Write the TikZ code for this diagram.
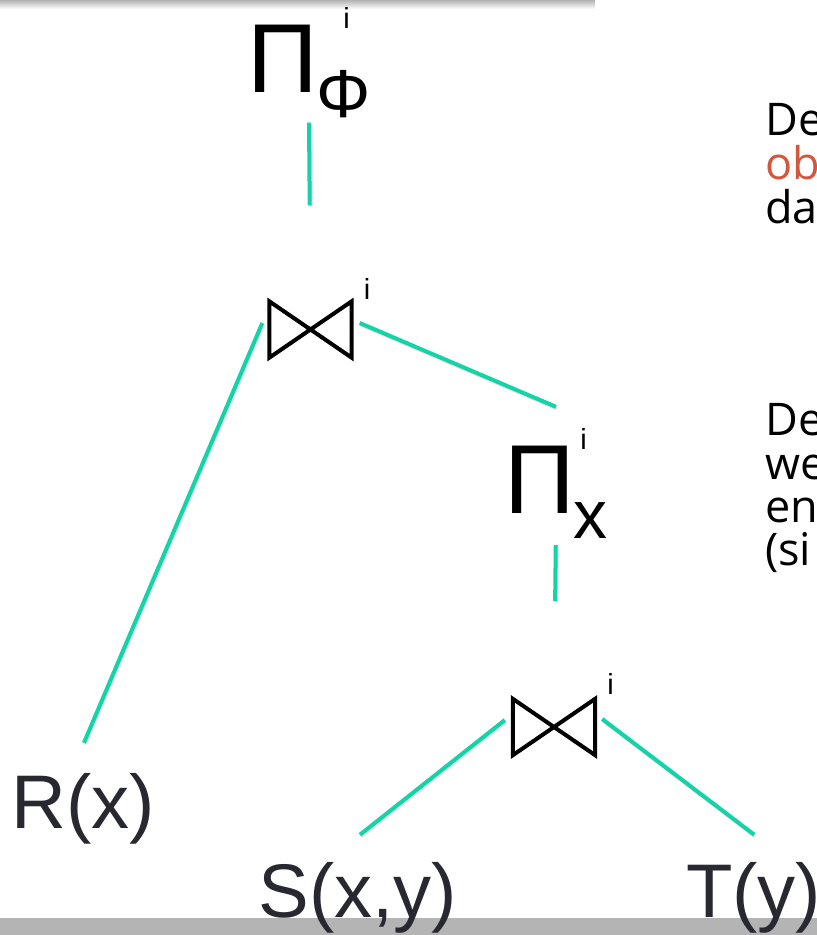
\documentclass[tikz,border=0pt]{standalone}
\usepackage{fontspec}
\setmainfont{Liberation Sans}
\newfontfamily\notefont{Open Sans}
\usetikzlibrary{positioning,calc}
\definecolor{edgeteal}{RGB}{20,211,168}
\definecolor{notered}{RGB}{213,86,60}
\definecolor{textdark}{RGB}{40,40,48}
\definecolor{bargray}{RGB}{180,180,180}

% operator with subscript and the superscript i
\newcommand{\opname}[3]{{\fontsize{98}{98}\selectfont #1}\kern-1.5pt\rlap{\kern#3\raisebox{64pt}{\fontsize{29}{29}\selectfont i}}\raisebox{-25pt}{\fontsize{68}{68}\selectfont #2}}

\tikzset{
  edge/.style={line width=4pt, draw=edgeteal, preaction={draw=black!12, line width=4pt, transform canvas={shift={(1pt,-1.5pt)}}}},
  joinnode/.style={inner sep=0pt, minimum width=82pt, minimum height=56pt},
  bowline/.style={line width=4pt, line join=miter},
  op/.style={inner sep=0pt, anchor=base west},
  sup/.style={inner sep=0pt, anchor=base west, font=\fontsize{29}{29}\selectfont},
  leaf/.style={inner sep=0pt, anchor=base west, text=textdark, font=\fontsize{76}{76}\selectfont},
  note/.style={inner sep=0pt, anchor=base west, font=\notefont\fontsize{45}{47}\selectfont}
}

\begin{document}
\begin{tikzpicture}[x=1pt,y=-1pt]
    \useasboundingbox (0,0) rectangle (817,935);
    \clip (0,0) rectangle (817,935);
    % slide bars
    \shade[top color=black!30, bottom color=white] (0,0) rectangle (595,9);
    \fill[bargray] (0,918) rectangle (817,935);

    % top projection
    \node[op] (pphi) at (247,92) {\opname{Π}{Φ}{27pt}};

    % upper join
    \node[joinnode] (j1) at (310.5,329.5) {};
    \draw[bowline] (j1.north west) -- (j1.south east) -- (j1.north east) -- (j1.south west) -- cycle;
    \node[sup] (j1i) at ($(j1.north east)+(12,-2)$) {i};

    % projection on x
    \node[op] (px) at (504,513) {\opname{Π}{x}{7pt}};

    % lower join
    \node[joinnode] (j2) at (554,727) {};
    \draw[bowline] (j2.north west) -- (j2.south east) -- (j2.north east) -- (j2.south west) -- cycle;
    \node[sup] (j2i) at ($(j2.north east)+(12,-4)$) {i};

    % relations
    \node[leaf] (r) at (11,828) {R(x)};
    \node[leaf] (s) at (258.5,917) {S(x,y)};
    \node[leaf] (t) at (686,917) {T(y)};

    % tree edges
    \draw[edge, shorten <=5pt, shorten >=96pt] (pphi.south) -- (j1.north);
    \draw[edge] ($(j1.west)+(-7,-6.5)$) -- ($(r.north)+(1,-30)$);
    \draw[edge] ($(j1.east)+(8,-6.5)$) -- ($(px.north)+(0,-21)$);
    \draw[edge, shorten <=7pt, shorten >=98pt] (px.south) -- (j2.north);
    \draw[edge] ($(j2.west)+(-8,-7)$) -- ($(s.north)+(2,-27)$);
    \draw[edge] ($(j2.east)+(7,-8)$) -- ($(t.north)+(0.5,-27)$);

    % notes at the right edge
    \node[note] (n1) at (765,135) {De};
    \node[note, text=notered] (n2) at (765,179) {ob};
    \node[note] (n3) at (765,223) {da};
    \node[note] (n4) at (765,435) {De};
    \node[note] (n5) at (765,479) {we};
    \node[note] (n6) at (765,522) {en};
    \node[note] (n7) at (765,565) {(si};
\end{tikzpicture}
\end{document}
